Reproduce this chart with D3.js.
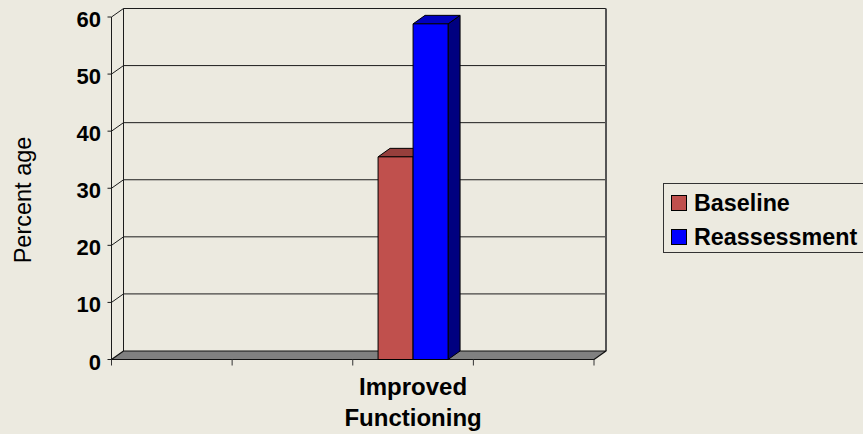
<!DOCTYPE html>
<html>
<head>
<meta charset="utf-8">
<script src="https://cdn.jsdelivr.net/npm/d3@7"></script>
<style>
  html, body { margin: 0; padding: 0; background: #ECEAE0; }
  svg { display: block; }
  text { font-family: "Liberation Sans", Arial, sans-serif; fill: #000; }
</style>
</head>
<body>
<svg id="chart" width="863" height="434"></svg>
<script>
// Category slots along the floor; only one carries a label and data
const categories = ["", "", "Improved Functioning", ""];
const seriesNames = ["Baseline", "Reassessment"];
const baseline = [null, null, 35.5, null];
const reassessment = [null, null, 58.8, null];
const yTicks = [0, 10, 20, 30, 40, 50, 60];

const svg = d3.select("#chart");

// Depth of the 3-D box: offset from the front plane to the back wall
const DX = 12, DY = -8.5;

const frontLeft = 111.5, frontRight = 594;
const y = d3.scaleLinear().domain([0, 60]).range([359.5, 17]);
const x = d3.scaleBand().domain(d3.range(categories.length)).range([frontLeft, frontRight]);
const groupW = 70;
const xs = d3.scaleBand().domain(seriesNames).range([0, groupW]);

const faceColors = {
  Baseline:     { front: "#C0504D", top: "#963F3C", side: "#7E3432" },
  Reassessment: { front: "#0000FF", top: "#0000C0", side: "#000080" }
};

const line = (pts) => d3.line()(pts);
const g = svg.append("g");

// Back wall gridlines and left-wall diagonals
yTicks.forEach(t => {
  const yf = y(t), yb = yf + DY;
  if (t > 0) {
    g.append("path").attr("d", line([[frontLeft, yf], [frontLeft + DX, yb], [frontRight + DX, yb]]))
      .attr("fill", "none").attr("stroke", "#1c1c1c").attr("stroke-width", 1);
  }
  // front tick
  g.append("path").attr("d", line([[frontLeft - 4, yf], [frontLeft, yf]]))
    .attr("stroke", "#1c1c1c").attr("stroke-width", 1);
  g.append("text").attr("x", 101).attr("y", yf + 10)
    .attr("text-anchor", "end").attr("font-weight", "bold").attr("font-size", 22)
    .text(t);
});

// Back wall left and right edges
g.append("path").attr("d", line([[frontLeft + DX, y(60) + DY], [frontLeft + DX, y(0) + DY]]))
  .attr("stroke", "#1c1c1c").attr("stroke-width", 1);
g.append("path").attr("d", line([[frontRight + DX, y(60) + DY], [frontRight + DX, y(0) + DY]]))
  .attr("stroke", "#555").attr("stroke-width", 2);
// Front vertical axis
g.append("path").attr("d", line([[frontLeft, y(60)], [frontLeft, y(0)]]))
  .attr("stroke", "#1c1c1c").attr("stroke-width", 1);

// Floor
g.append("path")
  .attr("d", line([[frontLeft, y(0)], [frontLeft + DX, y(0) + DY], [frontRight + DX, y(0) + DY], [frontRight, y(0)]]) + "Z")
  .attr("fill", "#808080").attr("stroke", "#111").attr("stroke-width", 1.2).attr("stroke-linejoin", "round");

// Category ticks under the floor
d3.range(categories.length + 1).forEach(i => {
  const tx = frontLeft + i * x.bandwidth();
  g.append("path").attr("d", line([[tx, y(0)], [tx, y(0) + 6]]))
    .attr("stroke", "#333").attr("stroke-width", 1);
});

// Bars
const seriesData = { Baseline: baseline, Reassessment: reassessment };
seriesNames.forEach(name => {
  seriesData[name].forEach((v, i) => {
    if (v == null) return;
    const x0 = x(i) + (x.bandwidth() - groupW) / 2 + xs(name);
    const x1 = x0 + xs.bandwidth();
    const yt = y(v), yb = y(0);
    const c = faceColors[name];
    const bar = g.append("g").attr("stroke", "#000").attr("stroke-width", 1).attr("stroke-linejoin", "round");
    bar.append("path").attr("d", line([[x1, yt], [x1 + DX, yt + DY], [x1 + DX, yb + DY], [x1, yb]]) + "Z").attr("fill", c.side);
    bar.append("path").attr("d", line([[x0, yt], [x0 + DX, yt + DY], [x1 + DX, yt + DY], [x1, yt]]) + "Z").attr("fill", c.top);
    bar.append("rect").attr("x", x0).attr("y", yt).attr("width", x1 - x0).attr("height", yb - yt).attr("fill", c.front);
  });
});

// Category labels (wrapped onto two lines)
categories.forEach((cat, i) => {
  if (!cat) return;
  const words = cat.split(" ");
  const t = g.append("text").attr("text-anchor", "middle").attr("font-weight", "bold").attr("font-size", 24);
  words.forEach((w, k) => {
    t.append("tspan").attr("x", x(i) + x.bandwidth() / 2).attr("y", 395 + k * 31).text(w);
  });
});

// Y axis title
g.append("text").attr("transform", "translate(31,200) rotate(-90)")
  .attr("text-anchor", "middle").attr("font-size", 23.5).text("Percent age");

// Legend
const lg = g.append("g");
lg.append("rect").attr("x", 663.5).attr("y", 183.5).attr("width", 230).attr("height", 69)
  .attr("fill", "none").attr("stroke", "#333").attr("stroke-width", 1);
seriesNames.forEach((name, k) => {
  const yy = 195.5 + k * 34;
  lg.append("rect").attr("x", 671.5).attr("y", yy).attr("width", 15).attr("height", 15)
    .attr("fill", faceColors[name].front).attr("stroke", "#000").attr("stroke-width", 1);
  lg.append("text").attr("x", 694).attr("y", yy + 15.5)
    .attr("font-weight", "bold").attr("font-size", 23.3).text(name);
});
</script>
</body>
</html>
